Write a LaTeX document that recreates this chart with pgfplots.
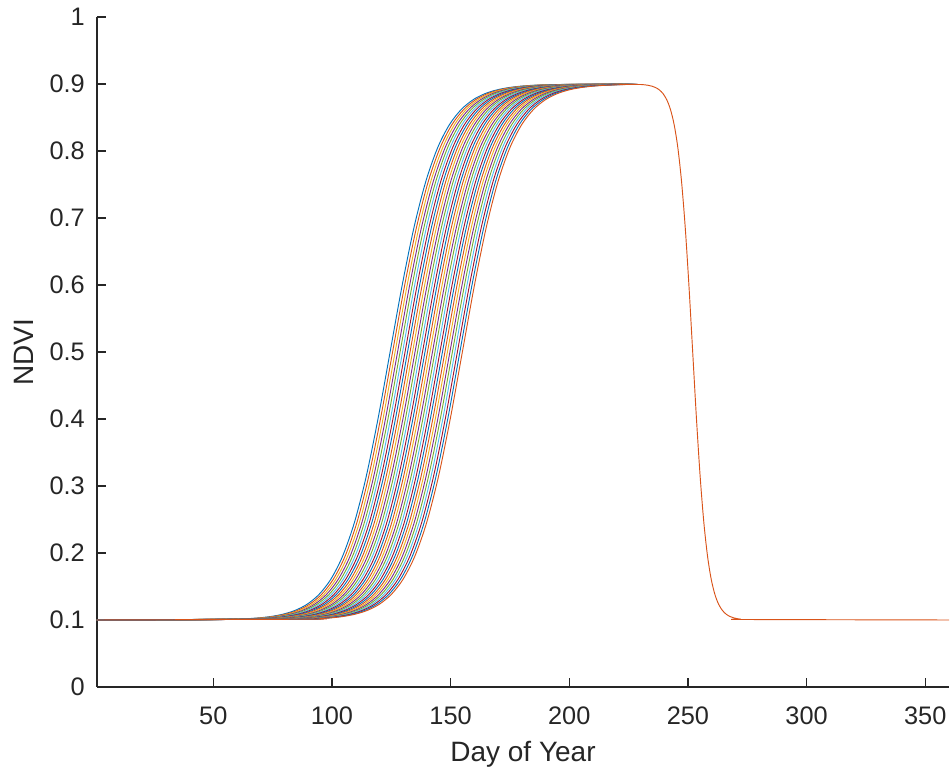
\documentclass[border=0pt]{standalone}
\usepackage{fontspec}
\setmainfont{Liberation Sans}
\usepackage{pgfplots}
\usepackage{pgfplotstable}
\pgfplotsset{compat=1.18}
\definecolor{m1}{rgb}{0,0.447,0.741}
\definecolor{m2}{rgb}{0.850,0.325,0.098}
\definecolor{m3}{rgb}{0.929,0.694,0.125}
\definecolor{m4}{rgb}{0.494,0.184,0.556}
\definecolor{m5}{rgb}{0.466,0.674,0.188}
\definecolor{m6}{rgb}{0.301,0.745,0.933}
\definecolor{m7}{rgb}{0.635,0.078,0.184}
\definecolor{axc}{rgb}{0.15,0.15,0.15}

\pgfplotstableread{
y x0 x1 x2 x3 x4 x5 x6 x7 x8 x9 x10 x11 x12 x13 x14 x15 x16 x17 x18 x19 x20 x21 x22 x23 x24 x25 x26 x27 x28 x29
0.10000 1 1 1 1 1 1 1 1 1 1 1 1 1 1 1 1 1 1 1 1 1 1 1 1 1 1 1 1 1 1
0.10120 59.5 60.55 61.6 62.65 63.7 64.75 65.8 66.85 67.9 68.95 70 71.05 72.1 73.15 74.2 75.25 76.3 77.35 78.4 79.45 80.5 81.55 82.6 83.65 84.7 85.75 86.8 87.85 88.9 89.95
0.10198 64.5 65.55 66.6 67.65 68.7 69.75 70.8 71.85 72.9 73.95 75 76.05 77.1 78.15 79.2 80.25 81.3 82.35 83.4 84.45 85.5 86.55 87.6 88.65 89.7 90.75 91.8 92.85 93.9 94.95
0.10326 69.5 70.55 71.6 72.65 73.7 74.75 75.8 76.85 77.9 78.95 80 81.05 82.1 83.15 84.2 85.25 86.3 87.35 88.4 89.45 90.5 91.55 92.6 93.65 94.7 95.75 96.8 97.85 98.9 99.95
0.10535 74.5 75.55 76.6 77.65 78.7 79.75 80.8 81.85 82.9 83.95 85 86.05 87.1 88.15 89.2 90.25 91.3 92.35 93.4 94.45 95.5 96.55 97.6 98.65 99.7 100.75 101.8 102.85 103.9 104.95
0.10879 79.5 80.55 81.6 82.65 83.7 84.75 85.8 86.85 87.9 88.95 90 91.05 92.1 93.15 94.2 95.25 96.3 97.35 98.4 99.45 100.5 101.55 102.6 103.65 104.7 105.75 106.8 107.85 108.9 109.95
0.11439 84.5 85.55 86.6 87.65 88.7 89.75 90.8 91.85 92.9 93.95 95 96.05 97.1 98.15 99.2 100.25 101.3 102.35 103.4 104.45 105.5 106.55 107.6 108.65 109.7 110.75 111.8 112.85 113.9 114.95
0.12345 89.5 90.55 91.6 92.65 93.7 94.75 95.8 96.85 97.9 98.95 100 101.05 102.1 103.15 104.2 105.25 106.3 107.35 108.4 109.45 110.5 111.55 112.6 113.65 114.7 115.75 116.8 117.85 118.9 119.95
0.13794 94.5 95.55 96.6 97.65 98.7 99.75 100.8 101.85 102.9 103.95 105 106.05 107.1 108.15 109.2 110.25 111.3 112.35 113.4 114.45 115.5 116.55 117.6 118.65 119.7 120.75 121.8 122.85 123.9 124.95
0.16069 99.5 100.55 101.6 102.65 103.7 104.75 105.8 106.85 107.9 108.95 110 111.05 112.1 113.15 114.2 115.25 116.3 117.35 118.4 119.45 120.5 121.55 122.6 123.65 124.7 125.75 126.8 127.85 128.9 129.95
0.19536 104.5 105.55 106.6 107.65 108.7 109.75 110.8 111.85 112.9 113.95 115 116.05 117.1 118.15 119.2 120.25 121.3 122.35 123.4 124.45 125.5 126.55 127.6 128.65 129.7 130.75 131.8 132.85 133.9 134.95
0.24594 109.5 110.55 111.6 112.65 113.7 114.75 115.8 116.85 117.9 118.95 120 121.05 122.1 123.15 124.2 125.25 126.3 127.35 128.4 129.45 130.5 131.55 132.6 133.65 134.7 135.75 136.8 137.85 138.9 139.95
0.31515 114.5 115.55 116.6 117.65 118.7 119.75 120.8 121.85 122.9 123.95 125 126.05 127.1 128.15 129.2 130.25 131.3 132.35 133.4 134.45 135.5 136.55 137.6 138.65 139.7 140.75 141.8 142.85 143.9 144.95
0.40203 119.5 120.55 121.6 122.65 123.7 124.75 125.8 126.85 127.9 128.95 130 131.05 132.1 133.15 134.2 135.25 136.3 137.35 138.4 139.45 140.5 141.55 142.6 143.65 144.7 145.75 146.8 147.85 148.9 149.95
0.50000 124.5 125.55 126.6 127.65 128.7 129.75 130.8 131.85 132.9 133.95 135 136.05 137.1 138.15 139.2 140.25 141.3 142.35 143.4 144.45 145.5 146.55 147.6 148.65 149.7 150.75 151.8 152.85 153.9 154.95
0.59797 129.5 130.55 131.6 132.65 133.7 134.75 135.8 136.85 137.9 138.95 140 141.05 142.1 143.15 144.2 145.25 146.3 147.35 148.4 149.45 150.5 151.55 152.6 153.65 154.7 155.75 156.8 157.85 158.9 159.95
0.68485 134.5 135.55 136.6 137.65 138.7 139.75 140.8 141.85 142.9 143.95 145 146.05 147.1 148.15 149.2 150.25 151.3 152.35 153.4 154.45 155.5 156.55 157.6 158.65 159.7 160.75 161.8 162.85 163.9 164.95
0.75406 139.5 140.55 141.6 142.65 143.7 144.75 145.8 146.85 147.9 148.95 150 151.05 152.1 153.15 154.2 155.25 156.3 157.35 158.4 159.45 160.5 161.55 162.6 163.65 164.7 165.75 166.8 167.85 168.9 169.95
0.80464 144.5 145.55 146.6 147.65 148.7 149.75 150.8 151.85 152.9 153.95 155 156.05 157.1 158.15 159.2 160.25 161.3 162.35 163.4 164.45 165.5 166.55 167.6 168.65 169.7 170.75 171.8 172.85 173.9 174.95
0.83931 149.5 150.55 151.6 152.65 153.7 154.75 155.8 156.85 157.9 158.95 160 161.05 162.1 163.15 164.2 165.25 166.3 167.35 168.4 169.45 170.5 171.55 172.6 173.65 174.7 175.75 176.8 177.85 178.9 179.95
0.86206 154.5 155.55 156.6 157.65 158.7 159.75 160.8 161.85 162.9 163.95 165 166.05 167.1 168.15 169.2 170.25 171.3 172.35 173.4 174.45 175.5 176.55 177.6 178.65 179.7 180.75 181.8 182.85 183.9 184.95
0.87655 159.5 160.55 161.6 162.65 163.7 164.75 165.8 166.85 167.9 168.95 170 171.05 172.1 173.15 174.2 175.25 176.3 177.35 178.4 179.45 180.5 181.55 182.6 183.65 184.7 185.75 186.8 187.85 188.9 189.95
0.88561 164.5 165.55 166.6 167.65 168.7 169.75 170.8 171.85 172.9 173.95 175 176.05 177.1 178.15 179.2 180.25 181.3 182.35 183.4 184.45 185.5 186.55 187.6 188.65 189.7 190.75 191.8 192.85 193.9 194.95
0.89121 169.5 170.55 171.6 172.65 173.7 174.75 175.8 176.85 177.9 178.95 180 181.05 182.1 183.15 184.2 185.25 186.3 187.35 188.4 189.45 190.5 191.55 192.6 193.65 194.7 195.75 196.8 197.85 198.9 199.95
0.89465 174.5 175.55 176.6 177.65 178.7 179.75 180.8 181.85 182.9 183.95 185 186.05 187.1 188.15 189.2 190.25 191.3 192.35 193.4 194.45 195.5 196.55 197.6 198.65 199.7 200.75 201.8 202.85 203.9 204.95
0.89674 179.5 180.55 181.6 182.65 183.7 184.75 185.8 186.85 187.9 188.95 190 191.05 192.1 193.15 194.2 195.25 196.3 197.35 198.4 199.45 200.5 201.55 202.6 203.65 204.7 205.75 206.8 207.85 208.9 209.95
0.89802 184.5 185.55 186.6 187.65 188.7 189.75 190.8 191.85 192.9 193.95 195 196.05 197.1 198.15 199.2 200.25 201.3 202.35 203.4 204.45 205.5 206.55 207.6 208.65 209.7 210.75 211.8 212.85 213.9 214.95
0.89880 189.5 190.55 191.6 192.65 193.7 194.75 195.8 196.85 197.9 198.95 200 201.05 202.1 203.15 204.2 205.25 206.3 207.35 208.4 209.45 210.5 211.55 212.6 213.65 214.7 215.75 216.8 217.85 218.9 219.95
0.89927 194.5 195.55 196.6 197.65 198.7 199.75 200.8 201.85 202.9 203.95 205 206.05 207.1 208.15 209.2 210.25 211.3 212.35 213.4 214.45 215.5 216.55 217.6 218.65 219.7 220.75 221.8 222.85 223.9 224.95
0.89927 230.125 230.125 230.125 230.125 230.125 230.125 230.125 230.125 230.125 230.125 230.125 230.125 230.125 230.125 230.125 230.125 230.125 230.125 230.125 230.125 230.125 230.125 230.125 230.125 230.125 230.125 230.125 230.125 230.125 230.125
}\greenup

\pgfplotstableread{
x y
230.125 0.89927
231.6875 0.89880
233.25 0.89802
234.8125 0.89674
236.375 0.89465
237.9375 0.89121
239.5 0.88561
241.0625 0.87655
242.625 0.86206
244.1875 0.83931
245.75 0.80464
247.3125 0.75406
248.875 0.68485
250.4375 0.59797
252 0.50000
253.5625 0.40203
255.125 0.31515
256.6875 0.24594
258.25 0.19536
259.8125 0.16069
261.375 0.13794
262.9375 0.12345
264.5 0.11439
266.0625 0.10879
267.625 0.10535
269.1875 0.10326
270.75 0.10198
272.3125 0.10120
273.875 0.10073
360 0.10000
}\senes

\begin{document}
\begin{tikzpicture}
\begin{axis}[
  at={(0,0)}, anchor=south west,
  scale only axis, width=639pt, height=502.5pt,
  xmin=1, xmax=360, ymin=0, ymax=1,
  axis x line*=bottom, axis y line*=left,
  axis line style={axc, line width=0.9pt, -},
  every tick/.style={axc, line width=0.9pt},
  tick align=inside, major tick length=6.75pt,
  xtick={50,100,150,200,250,300,350},
  ytick={0,0.1,0.2,0.3,0.4,0.5,0.6,0.7,0.8,0.9,1},
  /pgf/number format/assume math mode=true,
  ticklabel style={font=\fontsize{19}{22}\selectfont, text=axc, inner sep=0pt},
  xticklabel style={anchor=base, yshift=-28.5pt},
  yticklabel style={anchor=east, xshift=-9pt},
  xlabel={Day of Year}, ylabel={NDVI},
  label style={font=\fontsize{21}{24}\selectfont, text=axc, inner sep=0pt},
  xlabel style={at={(axis description cs:0.5,-0.1119)}, anchor=base},
  ylabel style={at={(axis description cs:-0.0751,0.5)}, anchor=base},
  no markers,
  every axis plot/.append style={line width=0.7pt, smooth, tension=0.5},
  cycle list={{m1},{m2},{m3},{m4},{m5},{m6},{m7}},
]
\pgfplotsinvokeforeach{0,...,29}{
  \addplot table[x=x#1, y=y]{\greenup};
}
\addplot[m2, line width=0.7pt, smooth, tension=0.5, forget plot] table[x=x, y=y]{\senes};
\end{axis}
\pgfresetboundingbox
\path[use as bounding box] (-72.75pt,-64.5pt) rectangle (639.75pt,515.25pt);
\end{tikzpicture}
\end{document}
